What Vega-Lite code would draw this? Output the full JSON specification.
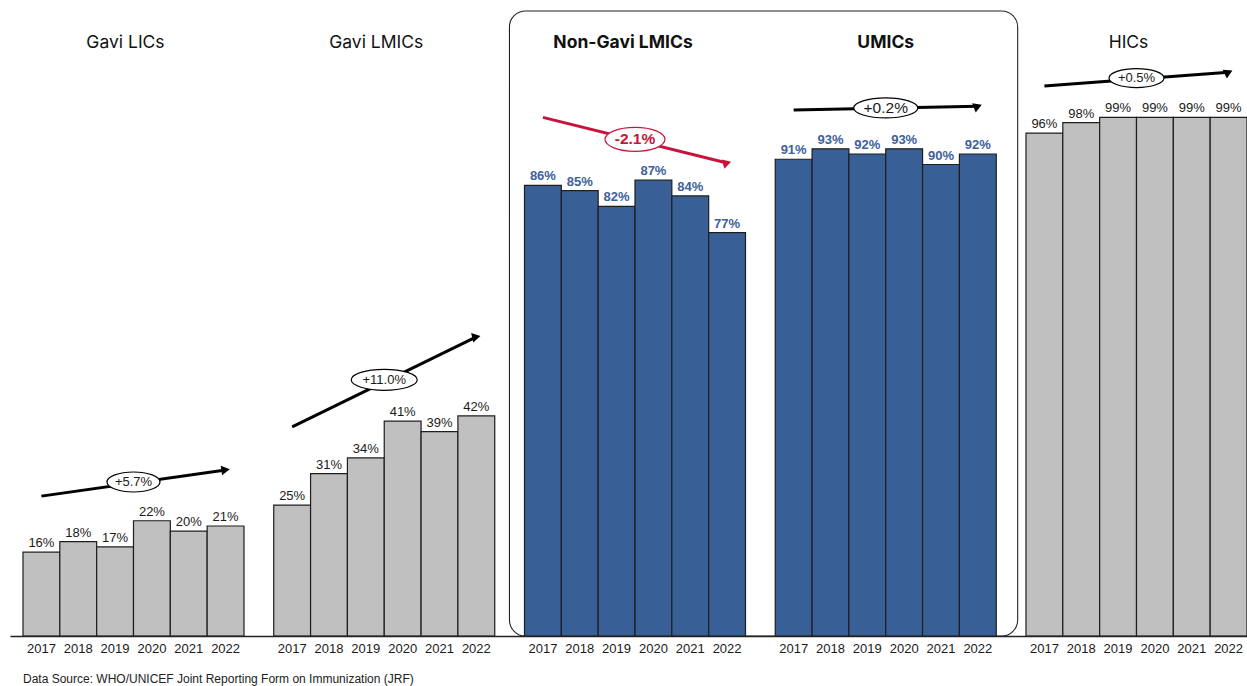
{
  "$schema": "https://vega.github.io/schema/vega-lite/v6.json",
  "width": 1237,
  "height": 636,
  "autosize": {"type": "none"},
  "padding": {"left": 10, "right": 0, "top": 0, "bottom": 50},
  "background": "white",
  "config": {"view": {"stroke": null}},
  "datasets": {
    "bars": [
      {"group": "Gavi LICs", "year": 2017, "value": 0.16},
      {"group": "Gavi LICs", "year": 2018, "value": 0.18},
      {"group": "Gavi LICs", "year": 2019, "value": 0.17},
      {"group": "Gavi LICs", "year": 2020, "value": 0.22},
      {"group": "Gavi LICs", "year": 2021, "value": 0.20},
      {"group": "Gavi LICs", "year": 2022, "value": 0.21},
      {"group": "Gavi LMICs", "year": 2017, "value": 0.25},
      {"group": "Gavi LMICs", "year": 2018, "value": 0.31},
      {"group": "Gavi LMICs", "year": 2019, "value": 0.34},
      {"group": "Gavi LMICs", "year": 2020, "value": 0.41},
      {"group": "Gavi LMICs", "year": 2021, "value": 0.39},
      {"group": "Gavi LMICs", "year": 2022, "value": 0.42},
      {"group": "Non-Gavi LMICs", "year": 2017, "value": 0.86},
      {"group": "Non-Gavi LMICs", "year": 2018, "value": 0.85},
      {"group": "Non-Gavi LMICs", "year": 2019, "value": 0.82},
      {"group": "Non-Gavi LMICs", "year": 2020, "value": 0.87},
      {"group": "Non-Gavi LMICs", "year": 2021, "value": 0.84},
      {"group": "Non-Gavi LMICs", "year": 2022, "value": 0.77},
      {"group": "UMICs", "year": 2017, "value": 0.91},
      {"group": "UMICs", "year": 2018, "value": 0.93},
      {"group": "UMICs", "year": 2019, "value": 0.92},
      {"group": "UMICs", "year": 2020, "value": 0.93},
      {"group": "UMICs", "year": 2021, "value": 0.90},
      {"group": "UMICs", "year": 2022, "value": 0.92},
      {"group": "HICs", "year": 2017, "value": 0.96},
      {"group": "HICs", "year": 2018, "value": 0.98},
      {"group": "HICs", "year": 2019, "value": 0.99},
      {"group": "HICs", "year": 2020, "value": 0.99},
      {"group": "HICs", "year": 2021, "value": 0.99},
      {"group": "HICs", "year": 2022, "value": 0.99}
    ],
    "arrows": [
      {"group": "Gavi LICs", "year": 2017, "v": 0.267},
      {"group": "Gavi LICs", "year": 2022, "v": 0.317},
      {"group": "Gavi LMICs", "year": 2017, "v": 0.399},
      {"group": "Gavi LMICs", "year": 2022, "v": 0.571},
      {"group": "Non-Gavi LMICs", "year": 2017, "v": 0.990},
      {"group": "Non-Gavi LMICs", "year": 2022, "v": 0.903},
      {"group": "UMICs", "year": 2017, "v": 1.004},
      {"group": "UMICs", "year": 2022, "v": 1.011},
      {"group": "HICs", "year": 2017, "v": 1.050},
      {"group": "HICs", "year": 2022, "v": 1.076}
    ],
    "trends": [
      {"group": "Gavi LICs", "v": 0.294, "label": "+5.7%"},
      {"group": "Gavi LMICs", "v": 0.489, "label": "+11.0%"},
      {"group": "Non-Gavi LMICs", "v": 0.948, "label": "-2.1%"},
      {"group": "UMICs", "v": 1.008, "label": "+0.2%"},
      {"group": "HICs", "v": 1.065, "label": "+0.5%"}
    ],
    "titles": [
      {"group": "Gavi LICs"},
      {"group": "Gavi LMICs"},
      {"group": "Non-Gavi LMICs"},
      {"group": "UMICs"},
      {"group": "HICs"}
    ]
  },
  "encoding": {
    "x": {
      "field": "group",
      "type": "nominal",
      "scale": {
        "domain": ["Gavi LICs", "Gavi LMICs", "Non-Gavi LMICs", "UMICs", "HICs"],
        "paddingInner": 0.1186,
        "paddingOuter": 0.0259,
        "align": 1
      },
      "axis": {
        "domain": true,
        "domainColor": "#222222",
        "domainWidth": 1.5,
        "labels": false,
        "ticks": false,
        "grid": false,
        "title": null
      }
    },
    "y": {
      "type": "quantitative",
      "scale": {"domain": [0, 1.214], "nice": false, "zero": true},
      "axis": null
    }
  },
  "layer": [
    {
      "data": {"values": [{}]},
      "mark": {"type": "rect", "fill": "white", "stroke": "#222222", "strokeWidth": 1.1, "cornerRadius": 16},
      "encoding": {
        "x": {"datum": "Non-Gavi LMICs", "bandPosition": -0.068},
        "x2": {"datum": "UMICs", "bandPosition": 1.097},
        "y": {"datum": 0},
        "y2": {"datum": 1.193}
      }
    },
    {
      "data": {"name": "bars"},
      "mark": {"type": "bar", "stroke": "#1e1e1e", "strokeWidth": 1.2},
      "encoding": {
        "xOffset": {"field": "year", "type": "ordinal", "scale": {"domain": [2017, 2018, 2019, 2020, 2021, 2022], "paddingInner": 0, "paddingOuter": 0}},
        "y": {"field": "value", "type": "quantitative"},
        "fill": {
          "field": "group",
          "type": "nominal",
          "scale": {
            "domain": ["Gavi LICs", "Gavi LMICs", "Non-Gavi LMICs", "UMICs", "HICs"],
            "range": ["#c0c0c0", "#c0c0c0", "#386096", "#386096", "#c0c0c0"]
          },
          "legend": null
        }
      }
    },
    {
      "data": {"name": "bars"},
      "transform": [{"filter": {"field": "group", "oneOf": ["Gavi LICs", "Gavi LMICs", "HICs"]}}],
      "mark": {"type": "text", "font": "Liberation Sans", "fontSize": 13, "fill": "#1a1a1a", "baseline": "alphabetic", "dy": -5},
      "encoding": {
        "xOffset": {"field": "year", "type": "ordinal"},
        "y": {"field": "value", "type": "quantitative"},
        "text": {"field": "value", "type": "quantitative", "format": ".0%"}
      }
    },
    {
      "data": {"name": "bars"},
      "transform": [{"filter": {"field": "group", "oneOf": ["Non-Gavi LMICs", "UMICs"]}}],
      "mark": {"type": "text", "font": "Liberation Sans", "fontSize": 13, "fontWeight": "bold", "fill": "#3d619b", "baseline": "alphabetic", "dy": -5},
      "encoding": {
        "xOffset": {"field": "year", "type": "ordinal"},
        "y": {"field": "value", "type": "quantitative"},
        "text": {"field": "value", "type": "quantitative", "format": ".0%"}
      }
    },
    {
      "data": {"name": "bars"},
      "mark": {"type": "text", "font": "Liberation Sans", "fontSize": 13, "fill": "#1a1a1a", "baseline": "middle", "dy": 12.5},
      "encoding": {
        "xOffset": {"field": "year", "type": "ordinal"},
        "y": {"datum": 0},
        "text": {"field": "year", "type": "ordinal"}
      }
    },
    {
      "data": {"name": "arrows"},
      "transform": [{"filter": {"field": "group", "oneOf": ["Gavi LICs", "Gavi LMICs", "UMICs", "HICs"]}}],
      "mark": {"type": "line", "color": "#000000", "strokeWidth": 3},
      "encoding": {
        "xOffset": {"field": "year", "type": "ordinal"},
        "y": {"field": "v", "type": "quantitative"},
        "detail": {"field": "group", "type": "nominal"}
      }
    },
    {
      "data": {"name": "arrows"},
      "transform": [{"filter": {"field": "group", "equal": "Non-Gavi LMICs"}}],
      "mark": {"type": "line", "color": "#c8143c", "strokeWidth": 3},
      "encoding": {
        "xOffset": {"field": "year", "type": "ordinal"},
        "y": {"field": "v", "type": "quantitative"},
        "detail": {"field": "group", "type": "nominal"}
      }
    },
    {
      "data": {"name": "arrows"},
      "transform": [{"filter": {"field": "year", "equal": 2022}}, {"filter": {"field": "group", "oneOf": ["Gavi LICs", "Gavi LMICs", "UMICs", "HICs"]}}],
      "mark": {"type": "point", "shape": "triangle-right", "filled": true, "color": "#000000", "opacity": 1, "size": 95},
      "encoding": {
        "xOffset": {"field": "year", "type": "ordinal"},
        "y": {"field": "v", "type": "quantitative"},
        "angle": {
          "field": "group",
          "type": "nominal",
          "scale": {
            "domain": ["Gavi LICs", "Gavi LMICs", "Non-Gavi LMICs", "UMICs", "HICs"],
            "range": [352, 334.1, 14, 358.8, 355.6]
          },
          "legend": null
        }
      }
    },
    {
      "data": {"name": "arrows"},
      "transform": [{"filter": {"field": "year", "equal": 2022}}, {"filter": {"field": "group", "equal": "Non-Gavi LMICs"}}],
      "mark": {"type": "point", "shape": "triangle-right", "filled": true, "color": "#c8143c", "opacity": 1, "size": 95},
      "encoding": {
        "xOffset": {"field": "year", "type": "ordinal"},
        "y": {"field": "v", "type": "quantitative"},
        "angle": {"field": "group", "type": "nominal", "legend": null}
      }
    },
    {
      "data": {"name": "trends"},
      "mark": {"type": "point", "filled": true, "fill": "white", "opacity": 1, "strokeWidth": 1.2, "size": 4},
      "encoding": {
        "y": {"field": "v", "type": "quantitative"},
        "shape": {
          "field": "group",
          "type": "nominal",
          "scale": {
            "domain": ["Gavi LICs", "Gavi LMICs", "Non-Gavi LMICs", "UMICs", "HICs"],
            "range": [
              "M -26.5 0 A 26.5 10 0 1 1 26.5 0 A 26.5 10 0 1 1 -26.5 0 Z",
              "M -33 0 A 33 10.5 0 1 1 33 0 A 33 10.5 0 1 1 -33 0 Z",
              "M -30 0 A 30 12 0 1 1 30 0 A 30 12 0 1 1 -30 0 Z",
              "M -32 0 A 32 10 0 1 1 32 0 A 32 10 0 1 1 -32 0 Z",
              "M -27.5 0 A 27.5 9.5 0 1 1 27.5 0 A 27.5 9.5 0 1 1 -27.5 0 Z"
            ]
          },
          "legend": null
        },
        "stroke": {
          "field": "group",
          "type": "nominal",
          "scale": {
            "domain": ["Gavi LICs", "Gavi LMICs", "Non-Gavi LMICs", "UMICs", "HICs"],
            "range": ["#000000", "#000000", "#c8143c", "#000000", "#000000"]
          },
          "legend": null
        }
      }
    },
    {
      "data": {"name": "trends"},
      "transform": [{"filter": {"field": "group", "oneOf": ["Gavi LICs", "Gavi LMICs", "HICs"]}}],
      "mark": {"type": "text", "font": "Liberation Sans", "fontSize": 13, "fill": "#1a1a1a", "baseline": "middle", "align": "center"},
      "encoding": {
        "y": {"field": "v", "type": "quantitative"},
        "text": {"field": "label", "type": "nominal"}
      }
    },
    {
      "data": {"name": "trends"},
      "transform": [{"filter": {"field": "group", "equal": "UMICs"}}],
      "mark": {"type": "text", "font": "Liberation Sans", "fontSize": 15.5, "fill": "#1a1a1a", "baseline": "middle", "align": "center"},
      "encoding": {
        "y": {"field": "v", "type": "quantitative"},
        "text": {"field": "label", "type": "nominal"}
      }
    },
    {
      "data": {"name": "trends"},
      "transform": [{"filter": {"field": "group", "equal": "Non-Gavi LMICs"}}],
      "mark": {"type": "text", "font": "Liberation Sans", "fontSize": 15.5, "fontWeight": "bold", "fill": "#c8143c", "baseline": "middle", "align": "center"},
      "encoding": {
        "y": {"field": "v", "type": "quantitative"},
        "text": {"field": "label", "type": "nominal"}
      }
    },
    {
      "data": {"name": "titles"},
      "transform": [{"filter": {"field": "group", "oneOf": ["Gavi LICs", "Gavi LMICs", "HICs"]}}],
      "mark": {"type": "text", "font": "Inter", "fontSize": 17.5, "fill": "#111111", "baseline": "middle", "align": "center", "dx": -8},
      "encoding": {
        "y": {"datum": 1.132},
        "text": {"field": "group", "type": "nominal"}
      }
    },
    {
      "data": {"name": "titles"},
      "transform": [{"filter": {"field": "group", "equal": "Non-Gavi LMICs"}}],
      "mark": {"type": "text", "font": "Inter", "fontSize": 17.5, "fontWeight": "bold", "fill": "#111111", "baseline": "middle", "align": "center", "dx": -12},
      "encoding": {
        "y": {"datum": 1.132},
        "text": {"field": "group", "type": "nominal"}
      }
    },
    {
      "data": {"name": "titles"},
      "transform": [{"filter": {"field": "group", "equal": "UMICs"}}],
      "mark": {"type": "text", "font": "Inter", "fontSize": 17.5, "fontWeight": "bold", "fill": "#111111", "baseline": "middle", "align": "center"},
      "encoding": {
        "y": {"datum": 1.132},
        "text": {"field": "group", "type": "nominal"}
      }
    },
    {
      "data": {"values": [{}]},
      "mark": {"type": "text", "font": "Liberation Sans", "fontSize": 12, "fill": "#222222", "align": "left", "baseline": "alphabetic", "dy": 46.5, "text": "Data Source: WHO/UNICEF Joint Reporting Form on Immunization (JRF)"},
      "encoding": {
        "x": {"datum": "Gavi LICs", "bandPosition": 0},
        "y": {"datum": 0}
      }
    }
  ]
}
